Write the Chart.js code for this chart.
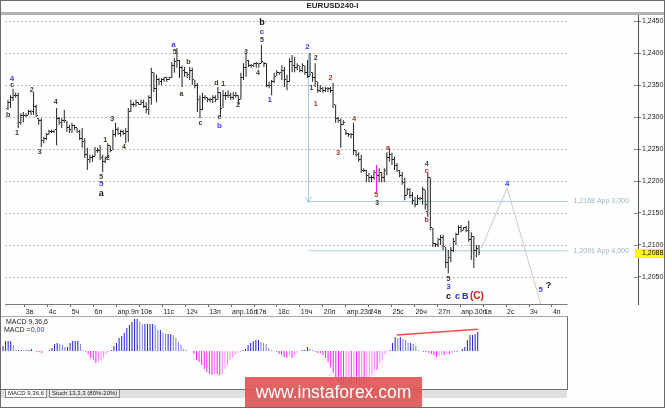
<!DOCTYPE html>
<html>
<head>
<meta charset="utf-8">
<title>EURUSD240-I</title>
<script src="https://cdn.jsdelivr.net/npm/chart.js@4.4.1/dist/chart.umd.min.js"></script>
<style>
  html, body { margin: 0; padding: 0; background: #fff; }
  #wrap { position: relative; width: 665px; height: 408px; overflow: hidden; background: #fdfefd; font-family: "Liberation Sans", Arial, sans-serif; color: #222; }
  #main { position: absolute; left: 0; top: 0; }
  #title { position: absolute; left: 0; top: 1px; width: 665px; text-align: center; font-size: 8px; font-weight: bold; line-height: 10px; }
  #band { position: absolute; left: 0; top: 12px; width: 665px; height: 3px; background: #b2b2b2; }
  #macdBox { position: absolute; left: 0; top: 316px; width: 568px; height: 74px; box-sizing: border-box; border: 1px solid #a8a8a8; border-right-color: #6e6e6e; border-bottom-color: #6e6e6e; }
  #macd { position: absolute; left: 0; top: 0; }
  .lbl { position: absolute; font-size: 7px; line-height: 8px; white-space: nowrap; }
  #tabs { position: absolute; left: 1px; top: 390px; width: 566px; height: 8px; background: #e0e0e0; }
  .tab { position: absolute; top: 0; height: 7px; font-size: 6px; line-height: 7px; padding: 0 2px; border: 1px solid #8a8a8a; border-top: none; white-space: nowrap; }
  #mark { position: absolute; left: 245px; top: 377px; width: 177px; height: 31px; background: rgba(222, 82, 82, 0.9); color: #fff; font-size: 17.5px; line-height: 31px; text-align: center; }
  #frame { position: absolute; left: 0; top: 0; width: 663px; height: 406px; border: 1px solid #6a6a6a; }
</style>
</head>
<body>
<div id="wrap">
  <canvas id="main" width="665" height="316"></canvas>
  <div id="band"></div>
  <div id="title">EURUSD240-I</div>
  <div id="macdBox"><canvas id="macd" width="566" height="72"></canvas></div>
  <div class="lbl" style="left:6px;top:318px">MACD 9,36,6</div>
  <div class="lbl" style="left:4px;top:326px">MACD =<span style="color:#2f2fff">0,00</span></div>
  <div id="tabs">
    <div class="tab" style="left:4px;background:#fff">MACD 9,36,6</div>
    <div class="tab" style="left:48px;background:#e8e8e8">Stoch 13,3,3 (80%-20%)</div>
  </div>
  <div id="mark">www.instaforex.com</div>
  <div id="frame"></div>
</div>

<script>
// 4H bars, oldest first
const high = [
  1.2327, 1.2334, 1.2344, 1.2338, 1.2338, 1.2306, 1.2308, 1.2306, 1.2311, 1.2311,
  1.2339, 1.2319, 1.2298, 1.2298, 1.2269, 1.2275, 1.2280, 1.2280, 1.2280, 1.2314,
  1.2300, 1.2298, 1.2311, 1.2294, 1.2288, 1.2291, 1.2288, 1.2283, 1.2280, 1.2283,
  1.2267, 1.2252, 1.2241, 1.2241, 1.2253, 1.2252, 1.2256, 1.2241, 1.2238, 1.2259,
  1.2255, 1.2280, 1.2291, 1.2284, 1.2280, 1.2280, 1.2283, 1.2314, 1.2327, 1.2323,
  1.2327, 1.2323, 1.2327, 1.2327, 1.2323, 1.2334, 1.2377, 1.2370, 1.2366, 1.2361,
  1.2361, 1.2363, 1.2363, 1.2363, 1.2386, 1.2392, 1.2408, 1.2389, 1.2380, 1.2378,
  1.2370, 1.2378, 1.2377, 1.2358, 1.2353, 1.2334, 1.2338, 1.2334, 1.2331, 1.2330,
  1.2334, 1.2334, 1.2347, 1.2339, 1.2342, 1.2339, 1.2342, 1.2338, 1.2339, 1.2339,
  1.2334, 1.2369, 1.2384, 1.2400, 1.2389, 1.2383, 1.2384, 1.2386, 1.2384, 1.2413,
  1.2386, 1.2384, 1.2355, 1.2358, 1.2369, 1.2373, 1.2370, 1.2381, 1.2378, 1.2366,
  1.2392, 1.2397, 1.2394, 1.2384, 1.2380, 1.2384, 1.2381, 1.2389, 1.2400, 1.2370,
  1.2384, 1.2355, 1.2350, 1.2347, 1.2347, 1.2347, 1.2347, 1.2353, 1.2319, 1.2300,
  1.2298, 1.2295, 1.2280, 1.2275, 1.2275, 1.2291, 1.2248, 1.2245, 1.2241, 1.2220,
  1.2217, 1.2213, 1.2209, 1.2217, 1.2225, 1.2220, 1.2214, 1.2220, 1.2245, 1.2252,
  1.2244, 1.2238, 1.2228, 1.2217, 1.2214, 1.2205, 1.2189, 1.2189, 1.2183, 1.2175,
  1.2178, 1.2175, 1.2191, 1.2186, 1.2213, 1.2205, 1.2127, 1.2103, 1.2111, 1.2116,
  1.2116, 1.2097, 1.2092, 1.2097, 1.2111, 1.2119, 1.2131, 1.2131, 1.2128, 1.2130,
  1.2138, 1.2120, 1.2114, 1.2100, 1.2100
];
const low = [
  1.2311, 1.2314, 1.2325, 1.2330, 1.2283, 1.2288, 1.2292, 1.2300, 1.2303, 1.2303,
  1.2303, 1.2300, 1.2288, 1.2253, 1.2259, 1.2264, 1.2272, 1.2275, 1.2275, 1.2256,
  1.2288, 1.2283, 1.2291, 1.2277, 1.2275, 1.2275, 1.2280, 1.2275, 1.2264, 1.2252,
  1.2236, 1.2217, 1.2228, 1.2230, 1.2239, 1.2244, 1.2233, 1.2214, 1.2228, 1.2236,
  1.2245, 1.2248, 1.2269, 1.2272, 1.2269, 1.2272, 1.2259, 1.2261, 1.2308, 1.2316,
  1.2316, 1.2319, 1.2319, 1.2314, 1.2306, 1.2303, 1.2319, 1.2339, 1.2323, 1.2350,
  1.2350, 1.2355, 1.2355, 1.2358, 1.2361, 1.2369, 1.2377, 1.2361, 1.2347, 1.2363,
  1.2361, 1.2358, 1.2350, 1.2345, 1.2308, 1.2298, 1.2311, 1.2327, 1.2323, 1.2323,
  1.2322, 1.2323, 1.2327, 1.2300, 1.2314, 1.2327, 1.2330, 1.2327, 1.2327, 1.2330,
  1.2319, 1.2327, 1.2358, 1.2363, 1.2378, 1.2377, 1.2378, 1.2377, 1.2377, 1.2384,
  1.2378, 1.2347, 1.2345, 1.2334, 1.2353, 1.2364, 1.2366, 1.2358, 1.2347, 1.2342,
  1.2355, 1.2370, 1.2370, 1.2373, 1.2370, 1.2370, 1.2366, 1.2361, 1.2364, 1.2355,
  1.2347, 1.2338, 1.2339, 1.2338, 1.2339, 1.2339, 1.2338, 1.2314, 1.2291, 1.2291,
  1.2252, 1.2288, 1.2272, 1.2269, 1.2267, 1.2241, 1.2238, 1.2230, 1.2213, 1.2214,
  1.2198, 1.2198, 1.2198, 1.2202, 1.2183, 1.2198, 1.2198, 1.2198, 1.2209, 1.2230,
  1.2225, 1.2217, 1.2214, 1.2206, 1.2194, 1.2170, 1.2178, 1.2173, 1.2163, 1.2159,
  1.2163, 1.2170, 1.2163, 1.2155, 1.2144, 1.2123, 1.2097, 1.2097, 1.2097, 1.2100,
  1.2092, 1.2064, 1.2056, 1.2073, 1.2089, 1.2100, 1.2116, 1.2120, 1.2123, 1.2120,
  1.2105, 1.2077, 1.2064, 1.2081, 1.2084
];
const open = [
  1.2314, 1.2323, 1.2331, 1.2334, 1.2333, 1.2292, 1.2302, 1.2303, 1.2303, 1.2308,
  1.2309, 1.2317, 1.2298, 1.2295, 1.2264, 1.2267, 1.2273, 1.2277, 1.2278, 1.2280,
  1.2298, 1.2292, 1.2295, 1.2294, 1.2283, 1.2280, 1.2286, 1.2283, 1.2278, 1.2267,
  1.2261, 1.2241, 1.2233, 1.2236, 1.2239, 1.2248, 1.2247, 1.2236, 1.2230, 1.2236,
  1.2255, 1.2248, 1.2273, 1.2280, 1.2275, 1.2277, 1.2275, 1.2277, 1.2308, 1.2320,
  1.2320, 1.2322, 1.2320, 1.2323, 1.2317, 1.2311, 1.2330, 1.2370, 1.2345, 1.2358,
  1.2355, 1.2358, 1.2361, 1.2358, 1.2361, 1.2380, 1.2386, 1.2389, 1.2377, 1.2373,
  1.2369, 1.2366, 1.2373, 1.2358, 1.2350, 1.2327, 1.2311, 1.2330, 1.2331, 1.2327,
  1.2328, 1.2330, 1.2327, 1.2339, 1.2314, 1.2334, 1.2334, 1.2333, 1.2330, 1.2333,
  1.2334, 1.2327, 1.2361, 1.2377, 1.2389, 1.2381, 1.2380, 1.2383, 1.2383, 1.2384,
  1.2386, 1.2383, 1.2350, 1.2350, 1.2355, 1.2364, 1.2369, 1.2369, 1.2373, 1.2358,
  1.2355, 1.2386, 1.2381, 1.2377, 1.2380, 1.2373, 1.2380, 1.2370, 1.2364, 1.2370,
  1.2361, 1.2355, 1.2342, 1.2345, 1.2342, 1.2344, 1.2345, 1.2342, 1.2319, 1.2298,
  1.2295, 1.2289, 1.2280, 1.2275, 1.2272, 1.2273, 1.2248, 1.2241, 1.2233, 1.2217,
  1.2217, 1.2209, 1.2205, 1.2206, 1.2214, 1.2209, 1.2214, 1.2205, 1.2217, 1.2236,
  1.2241, 1.2233, 1.2225, 1.2217, 1.2209, 1.2198, 1.2178, 1.2186, 1.2178, 1.2170,
  1.2163, 1.2173, 1.2172, 1.2186, 1.2152, 1.2205, 1.2127, 1.2102, 1.2100, 1.2108,
  1.2111, 1.2097, 1.2073, 1.2080, 1.2092, 1.2105, 1.2116, 1.2127, 1.2123, 1.2127,
  1.2123, 1.2108, 1.2114, 1.2092, 1.2095
];
const close = [
  1.2323, 1.2331, 1.2334, 1.2333, 1.2292, 1.2302, 1.2303, 1.2303, 1.2308, 1.2309,
  1.2317, 1.2302, 1.2295, 1.2264, 1.2267, 1.2273, 1.2277, 1.2278, 1.2280, 1.2298,
  1.2292, 1.2295, 1.2294, 1.2283, 1.2280, 1.2286, 1.2283, 1.2278, 1.2267, 1.2261,
  1.2241, 1.2233, 1.2236, 1.2239, 1.2248, 1.2247, 1.2236, 1.2230, 1.2236, 1.2255,
  1.2248, 1.2273, 1.2280, 1.2275, 1.2277, 1.2275, 1.2277, 1.2308, 1.2320, 1.2320,
  1.2322, 1.2320, 1.2323, 1.2317, 1.2311, 1.2330, 1.2370, 1.2345, 1.2358, 1.2355,
  1.2358, 1.2361, 1.2358, 1.2361, 1.2380, 1.2386, 1.2389, 1.2377, 1.2373, 1.2369,
  1.2366, 1.2373, 1.2358, 1.2350, 1.2327, 1.2311, 1.2330, 1.2331, 1.2327, 1.2328,
  1.2330, 1.2327, 1.2339, 1.2314, 1.2334, 1.2334, 1.2333, 1.2330, 1.2333, 1.2334,
  1.2327, 1.2361, 1.2377, 1.2389, 1.2381, 1.2380, 1.2383, 1.2383, 1.2384, 1.2386,
  1.2383, 1.2350, 1.2350, 1.2355, 1.2364, 1.2369, 1.2369, 1.2373, 1.2358, 1.2355,
  1.2386, 1.2381, 1.2377, 1.2380, 1.2373, 1.2380, 1.2370, 1.2364, 1.2370, 1.2361,
  1.2355, 1.2342, 1.2345, 1.2342, 1.2344, 1.2345, 1.2342, 1.2319, 1.2298, 1.2295,
  1.2289, 1.2292, 1.2275, 1.2272, 1.2273, 1.2248, 1.2241, 1.2233, 1.2217, 1.2217,
  1.2209, 1.2205, 1.2206, 1.2214, 1.2209, 1.2214, 1.2205, 1.2217, 1.2236, 1.2241,
  1.2233, 1.2225, 1.2217, 1.2209, 1.2198, 1.2178, 1.2186, 1.2178, 1.2170, 1.2163,
  1.2173, 1.2172, 1.2186, 1.2163, 1.2205, 1.2127, 1.2102, 1.2100, 1.2108, 1.2111,
  1.2097, 1.2073, 1.2080, 1.2092, 1.2105, 1.2116, 1.2127, 1.2123, 1.2127, 1.2123,
  1.2108, 1.2114, 1.2092, 1.2095, 1.2088
];

// MACD(9,36,6) histogram, in points (0.00001)
const macdHist = [
  30, 60, 60, 60, 36, 6, 6, 6, 3, 6, 6, 12, 0,
  -6, -6, -12, 0, 0, 6,
  18, 42, 48, 42, 36, 24, 24, 48, 60, 60, 60, 42, 6,
  -6, -18, -42, -54, -72, -66, -54, -42, -18, -6,
  6, 30, 48, 78, 90, 108, 138, 156, 174, 192, 192, 174, 162, 162, 162, 162, 162, 156,
  126, 126, 108, 102, 102, 102, 96, 78, 54, 36, 12, 6, 0, 0,
  -18, -54, -66, -84, -108, -126, -138, -144, -138, -138, -144, -138, -108, -84, -54, -42, -24, -12, -6,
  6, 12, 36, 48, 60, 66, 66, 54, 48, 42, 18, 6, 0,
  -6, -18, -24, -36, -42, -30, -42, -24, -12, 0,
  6, 6, 24, 12, 6,
  -6, -12, -12, -24, -42, -66, -96, -132, -162, -186, -198, -198, -192, -186, -198,
  -192, -198, -204, -198, -198, -186, -162, -144, -114, -114, -72, -54, -18, -6,
  6, 48, 84, 78, 84, 72, 66, 48, 48, 42, 30, 6, 0,
  -6, -6, -12, -18, -24, -36, -30, -24, -24, -18, -18, -12, -6, -6, 0,
  12, 24, 66, 96, 96, 102, 114
];

const dayLabels = ['3в', '4с', '5ч', '6п', 'апр.9п', '10в', '11с', '12ч', '13п', 'апр.16п', '17в', '18с',
  '19ч', '20п', 'апр.23п', '24в', '25с', '26ч', '27п', 'апр.30п', '1в', '2с', '3ч', '4п'];
const yTicks = [1.2050, 1.2100, 1.2150, 1.2200, 1.2250, 1.2300, 1.2350, 1.2400, 1.2450];

// wave marks: text, bar, price, kind
const waveText  = ['4', 'c', 'b', '1', '2', '3', '4', '5', '5', 'a', '1', '2', '3', '4',
  'a', '5', 'b', 'a', 'c', 'd', '1', 'e', 'b', '2', '3', '4', 'b', 'c', '5', '1',
  '2', '2', '1', '1', '2', '3', '4', 'a', '5', '3', '4', 'c', 'b',
  '5', '3', 'c', 'c', 'B', '(C)', '4', '5', '?'];
const waveBar   = [1.6, 1.6, 0.1, 3.5, 9.3, 12.4, 18.6, 36.4, 36.4, 36.4, 38, 39.1, 40.7, 45.3,
  64.7, 65.1, 70.5, 67.8, 75.2, 81.4, 84.1, 82.6, 82.6, 89.9, 93, 97.7, 99.2, 99.2, 99.2, 102.3,
  117, 120.2, 118.6, 120.2, 126, 129, 135.3, 148.4, 143.8, 144.2, 163.6, 163.6, 163.6,
  172.1, 172.1, 172.1, 175.6, 178.6, 183.2, 195, 208.1, 211.2];
const wavePrice = [1.2359, 1.2350, 1.2303, 1.2275, 1.2342, 1.2245, 1.2323, 1.2206, 1.2195, 1.2181, 1.2264, 1.2236, 1.2297, 1.2253,
  1.2413, 1.2402, 1.2386, 1.2336, 1.2291, 1.2353, 1.2352, 1.2300, 1.2286, 1.2319, 1.2402, 1.2369, 1.2447, 1.2433, 1.2420, 1.2327,
  1.2409, 1.2392, 1.2345, 1.2320, 1.2361, 1.2244, 1.2297, 1.2252, 1.2178, 1.2166, 1.2227, 1.2216, 1.2139,
  1.2047, 1.2034, 1.2020, 1.2020, 1.2020, 1.2020, 1.2195, 1.2030, 1.2036];
const waveKind  = ['b', 'k', 'k', 'k', 'k', 'k', 'k', 'k', 'b', 'K', 'k', 'k', 'k', 'k',
  'b', 'k', 'k', 'k', 'k', 'k', 'k', 'k', 'b', 'k', 'k', 'k', 'K', 'b', 'k', 'b',
  'b', 'k', 'k', 'r', 'r', 'r', 'r', 'r', 'r', 'k', 'g', 'r', 'r',
  'k', 'b', 'K', 'B', 'B', 'R', 'b', 'b', 'K'];

// projected path 4 -> 5
const projBar   = [184.9, 195, 210];
const projPrice = [1.2095, 1.2189, 1.1982];

// target levels and the arrow dropped from wave 2
const levelPrice = [1.2168, 1.2091];
const levelRatio = ['3,000', '4,000'];
const arrowBar = 117.4;
const arrowPrice = [1.2400, 1.2166];

// divergence line on MACD
const divBar = [152.6, 184];
const divValue = [96, 130];

const MAGENTA_BAR = 144;

// layout
const BAR_PX = 2.58;
const FIRST_X = 3;
const MAIN_W = 638;
const PANE_END = (567 - FIRST_X) / BAR_PX;
const TICK0 = 6.59, TICK_STEP = 8.953;
const Y_MIN = 1.20078, Y_MAX = 1.24594;
const BAR_COLOR = '#202020';

Chart.defaults.font.family = '"Liberation Sans", Arial, sans-serif';

const idx = close.map((_, i) => i);
const commaPrice = v => v.toFixed(4).replace('.', ',');

function tickImage(col) {
  const c = document.createElement('canvas');
  c.width = 3;
  c.height = 1;
  const g = c.getContext('2d');
  g.fillStyle = BAR_COLOR;
  g.fillRect(col, 0, 1, 1);
  return c;
}

const labelStyle = {
  k: ['bold 7px "Liberation Sans"', '#3a3520'],
  b: ['bold 8px "Liberation Sans"', '#3b3bff'],
  r: ['bold 7px "Liberation Sans"', '#a83434'],
  g: ['bold 7px "Liberation Sans"', '#2f4b4b'],
  K: ['bold 9px "Liberation Sans"', '#111111'],
  B: ['bold 9px "Liberation Sans"', '#2626ff'],
  R: ['bold 10px "Liberation Sans"', '#e01414']
};

const overlay = {
  id: 'overlay',
  beforeDatasetsDraw(chart) {
    const { ctx, chartArea: a, scales: { x, y } } = chart;
    const xEnd = x.getPixelForValue(PANE_END);
    ctx.save();
    ctx.lineWidth = 1;
    ctx.strokeStyle = '#bcbccb';
    ctx.setLineDash([2, 2]);
    yTicks.forEach(v => {
      const py = Math.round(y.getPixelForValue(v)) + 0.5;
      ctx.beginPath(); ctx.moveTo(a.left, py); ctx.lineTo(xEnd, py); ctx.stroke();
    });
    ctx.setLineDash([]);
    ctx.strokeStyle = '#8c8c8c';
    yTicks.forEach(v => {
      const py = Math.round(y.getPixelForValue(v)) + 0.5;
      ctx.beginPath(); ctx.moveTo(a.right - 4, py); ctx.lineTo(a.right, py); ctx.stroke();
    });
    ctx.strokeStyle = '#7a7a7a';
    ctx.beginPath(); ctx.moveTo(a.left, a.bottom + 0.5); ctx.lineTo(xEnd, a.bottom + 0.5); ctx.stroke();
    ctx.restore();
    ctx.imageSmoothingEnabled = false;
  },
  afterDatasetsDraw(chart) {
    const { ctx, scales: { x, y } } = chart;
    ctx.save();
    // arrow head
    const ax = x.getPixelForValue(arrowBar), ay = y.getPixelForValue(arrowPrice[1]);
    ctx.strokeStyle = '#9fcadb';
    ctx.lineWidth = 1;
    ctx.beginPath(); ctx.moveTo(ax - 3, ay - 6); ctx.lineTo(ax, ay); ctx.lineTo(ax + 3, ay - 6); ctx.stroke();
    // level captions
    ctx.font = '7px "Liberation Sans"';
    ctx.fillStyle = '#9db4c4';
    ctx.textAlign = 'left';
    ctx.textBaseline = 'middle';
    levelPrice.forEach((p, i) => {
      ctx.fillText(commaPrice(p) + ' App ' + levelRatio[i], x.getPixelForValue(PANE_END) + 6, y.getPixelForValue(p));
    });
    // wave marks
    ctx.textAlign = 'center';
    waveText.forEach((t, i) => {
      const st = labelStyle[waveKind[i]];
      ctx.font = st[0];
      ctx.fillStyle = st[1];
      ctx.fillText(t, x.getPixelForValue(waveBar[i]), y.getPixelForValue(wavePrice[i]));
    });
    ctx.restore();
  },
  afterDraw(chart) {
    const { ctx, chartArea: a, scales: { y } } = chart;
    const last = close[close.length - 1];
    const py = Math.round(y.getPixelForValue(last));
    ctx.save();
    ctx.fillStyle = '#ffff00';
    ctx.fillRect(a.right - 3, py - 4, 30, 9);
    ctx.fillStyle = '#000';
    ctx.font = '7px "Liberation Sans"';
    ctx.textAlign = 'left';
    ctx.textBaseline = 'middle';
    ctx.fillText(commaPrice(last), a.right + 4, py + 0.5);
    ctx.restore();
  }
};

const levelSets = levelPrice.map(p => ({
  type: 'line',
  data: [{ x: arrowBar, y: p }, { x: PANE_END, y: p }],
  borderColor: '#a9d0de', borderWidth: 1, pointRadius: 0
}));

new Chart(document.getElementById('main'), {
  type: 'bar',
  data: {
    datasets: [
      {
        type: 'bar',
        data: idx.map(i => ({ x: i, y: [low[i], high[i]] })),
        backgroundColor: idx.map(i => i === MAGENTA_BAR ? '#ff00ff' : BAR_COLOR),
        barThickness: 1, inflateAmount: 0, borderWidth: 0, grouped: false
      },
      { type: 'scatter', data: idx.map(i => ({ x: i, y: open[i] })), pointStyle: tickImage(0), pointRadius: 1 },
      { type: 'scatter', data: idx.map(i => ({ x: i, y: close[i] })), pointStyle: tickImage(2), pointRadius: 1 },
      {
        type: 'line',
        data: projBar.map((b, i) => ({ x: b, y: projPrice[i] })),
        borderColor: '#c9c9c9', borderWidth: 1, pointRadius: 0
      },
      {
        type: 'line',
        data: arrowPrice.map(p => ({ x: arrowBar, y: p })),
        borderColor: '#9fcadb', borderWidth: 1, pointRadius: 0
      },
      ...levelSets
    ]
  },
  options: {
    responsive: false,
    animation: false,
    events: [],
    layout: { padding: { top: 15, left: 0, right: 0, bottom: 0 } },
    plugins: { legend: { display: false }, tooltip: { enabled: false } },
    scales: {
      x: {
        type: 'linear',
        min: -FIRST_X / BAR_PX,
        max: (MAIN_W - FIRST_X) / BAR_PX,
        offset: false,
        afterBuildTicks: s => { s.ticks = dayLabels.map((_, j) => ({ value: TICK0 + TICK_STEP * j })); },
        afterFit: s => { s.height = 12; },
        ticks: {
          autoSkip: false, maxRotation: 0, minRotation: 0, align: 'start', labelOffset: 1, padding: 1,
          font: { size: 7 }, color: '#1e1e1e',
          callback: (v, j) => dayLabels[j]
        },
        grid: { offset: false, drawOnChartArea: false, drawTicks: true, tickLength: 3, color: '#666' },
        border: { display: false }
      },
      y: {
        position: 'right',
        min: Y_MIN,
        max: Y_MAX,
        afterBuildTicks: s => { s.ticks = yTicks.map(v => ({ value: v })); },
        afterFit: s => { s.width = 665 - MAIN_W; },
        ticks: { font: { size: 7 }, color: '#1a1a1a', padding: 1, callback: v => commaPrice(v) },
        grid: { drawOnChartArea: false, drawTicks: true, tickLength: 3, color: '#666' },
        border: { display: true, color: '#505050' }
      }
    }
  },
  plugins: [overlay]
});

// MACD pane
const histColors = macdHist.map((v, i) => {
  const grow = i === 0 || Math.abs(v) >= Math.abs(macdHist[i - 1]);
  if (v >= 0) return grow ? '#2020d8' : '#7a7aec';
  return grow ? '#ff20ff' : '#ff88ff';
});

new Chart(document.getElementById('macd'), {
  type: 'bar',
  data: {
    datasets: [
      {
        data: idx.map(i => ({ x: i, y: macdHist[i] })),
        backgroundColor: histColors,
        barThickness: 1, inflateAmount: 0, borderWidth: 0
      },
      {
        type: 'line',
        data: divBar.map((b, i) => ({ x: b, y: divValue[i] })),
        borderColor: '#ff4a4a', borderWidth: 1.5, pointRadius: 0
      }
    ]
  },
  options: {
    responsive: false,
    animation: false,
    events: [],
    layout: { padding: 0 },
    plugins: { legend: { display: false }, tooltip: { enabled: false } },
    scales: {
      x: { type: 'linear', display: false, offset: false, min: -(FIRST_X - 1) / BAR_PX, max: (566 - FIRST_X + 1) / BAR_PX },
      y: { display: false, min: -228, max: 204 }
    }
  }
});
</script>
</body>
</html>
